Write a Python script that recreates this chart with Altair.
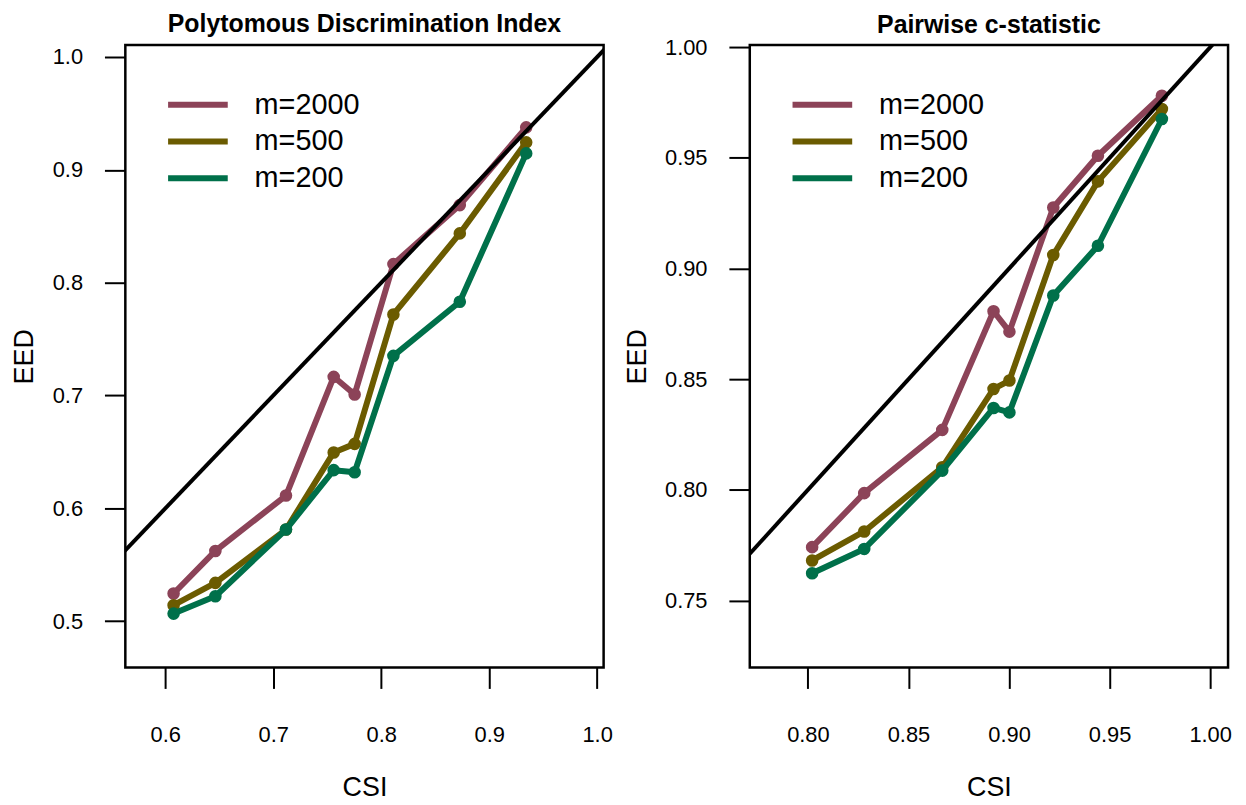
import altair as alt
import pandas as pd

# ---- data ----
series_labels = ["m=2000", "m=500", "m=200"]
series_colors = ["#8C4358", "#6B5B00", "#00704A"]

pdi_csi = [0.6077, 0.6464, 0.7118, 0.7560, 0.7754, 0.8113, 0.8728, 0.9343]
pdi_m2000 = [0.5246, 0.5623, 0.6114, 0.7166, 0.7010, 0.8165, 0.8688, 0.9377]
pdi_m500 = [0.5142, 0.5340, 0.5813, 0.6496, 0.6572, 0.7719, 0.8437, 0.9244]
pdi_m200 = [0.5068, 0.5222, 0.5813, 0.6339, 0.6321, 0.7352, 0.7831, 0.9146]

pw_csi = [0.8021, 0.8280, 0.8668, 0.8923, 0.9002, 0.9220, 0.9442, 0.9760]
pw_m2000 = [0.7741, 0.7985, 0.8271, 0.8807, 0.8715, 0.9276, 0.9510, 0.9781]
pw_m500 = [0.7681, 0.7812, 0.8102, 0.8456, 0.8494, 0.9061, 0.9394, 0.9721]
pw_m200 = [0.7623, 0.7733, 0.8087, 0.8370, 0.8350, 0.8878, 0.9103, 0.9676]

pdi_xticks = [0.6, 0.7, 0.8, 0.9, 1.0]
pdi_yticks = [0.5, 0.6, 0.7, 0.8, 0.9, 1.0]
pw_xticks = [0.80, 0.85, 0.90, 0.95, 1.00]
pw_yticks = [0.75, 0.80, 0.85, 0.90, 0.95, 1.00]

diag_ends = [0.3, 1.2]  # identity line y = x

FONT = "Liberation Sans"
PLOT_H = 626


def panel(csi, series, title, xdom, ydom, xticks, yticks, fmt, title_x, title_offset):
    rows = []
    for lab, vals in zip(series_labels, series):
        for c, v in zip(csi, vals):
            rows.append({"csi": c, "eed": v, "m": lab})
    df = pd.DataFrame(rows)
    diag = pd.DataFrame({"csi": diag_ends, "eed": diag_ends})

    xs = alt.Scale(domain=xdom, nice=False, zero=False)
    ys = alt.Scale(domain=ydom, nice=False, zero=False)
    xax = alt.Axis(values=xticks, format=fmt, tickSize=21, tickWidth=2, tickColor="black",
                   domain=False, grid=False, labelFontSize=22, labelFont=FONT,
                   labelColor="black", labelPadding=36, labelFlush=False, labelOverlap=False,
                   title="CSI", titleFontSize=27, titleFont=FONT, titleFontWeight="normal",
                   titleColor="black", titleY=108, titleBaseline="top")
    yax = alt.Axis(values=yticks, format=fmt, tickSize=21, tickWidth=2, tickColor="black",
                   domain=False, grid=False, labelFontSize=22, labelFont=FONT,
                   labelColor="black", labelPadding=22, labelFlush=False, labelOverlap=False,
                   title="EED", titleFontSize=27, titleFont=FONT, titleFontWeight="normal",
                   titleColor="black", titleAngle=270, titleX=title_x, titleY=PLOT_H / 2,
                   titleAlign="center", titleBaseline="middle")
    color = alt.Color("m:N",
                      scale=alt.Scale(domain=series_labels, range=series_colors),
                      legend=alt.Legend(title=None, orient="none", legendX=55, legendY=42,
                                        symbolType="M-2,0H2", symbolSize=900,
                                        symbolStrokeWidth=6, symbolFillColor="transparent",
                                        labelFontSize=29,
                                        labelFont=FONT, labelColor="black", labelOffset=39,
                                        rowPadding=4, padding=0, symbolOpacity=1))
    x = alt.X("csi:Q", scale=xs, axis=xax)
    y = alt.Y("eed:Q", scale=ys, axis=yax)

    layers = []
    for lab in series_labels:
        base = alt.Chart(df).transform_filter(alt.datum.m == lab)
        layers.append(base.mark_line(strokeWidth=6, strokeJoin="round", strokeCap="round")
                      .encode(x=x, y=y, color=color))
        layers.append(base.mark_circle(size=160, opacity=1).encode(x=x, y=y, color=color))
    layers.append(alt.Chart(diag).mark_line(color="black", strokeWidth=4, clip=True)
                  .encode(x=alt.X("csi:Q", scale=xs, axis=xax),
                          y=alt.Y("eed:Q", scale=ys, axis=yax)))
    return alt.layer(*layers).properties(
        width=481, height=PLOT_H,
        title=alt.TitleParams(title, fontSize=25, fontWeight="bold", font=FONT,
                              color="black", anchor="middle", frame="group",
                              offset=title_offset, baseline="alphabetic"))


left = panel(pdi_csi, [pdi_m2000, pdi_m500, pdi_m200], "Polytomous Discrimination Index",
             [0.563, 1.006], [0.459, 1.0106], pdi_xticks, pdi_yticks, ".1f", -101, -12)
right = panel(pw_csi, [pw_m2000, pw_m500, pw_m200], "Pairwise c-statistic",
              [0.7711, 1.0089], [0.7197, 1.001], pw_xticks, pw_yticks, ".2f", -113, -22)

chart = (alt.hconcat(left, right, spacing=7)
         .resolve_scale(color="independent")
         .resolve_legend(color="independent")
         .properties(padding={"left": 1, "top": 0, "right": 5, "bottom": 5},
                     background="white")
         .configure_view(stroke="black", strokeWidth=2.5))

chart.save("out.html", embed_options={"renderer": "svg", "actions": False})
